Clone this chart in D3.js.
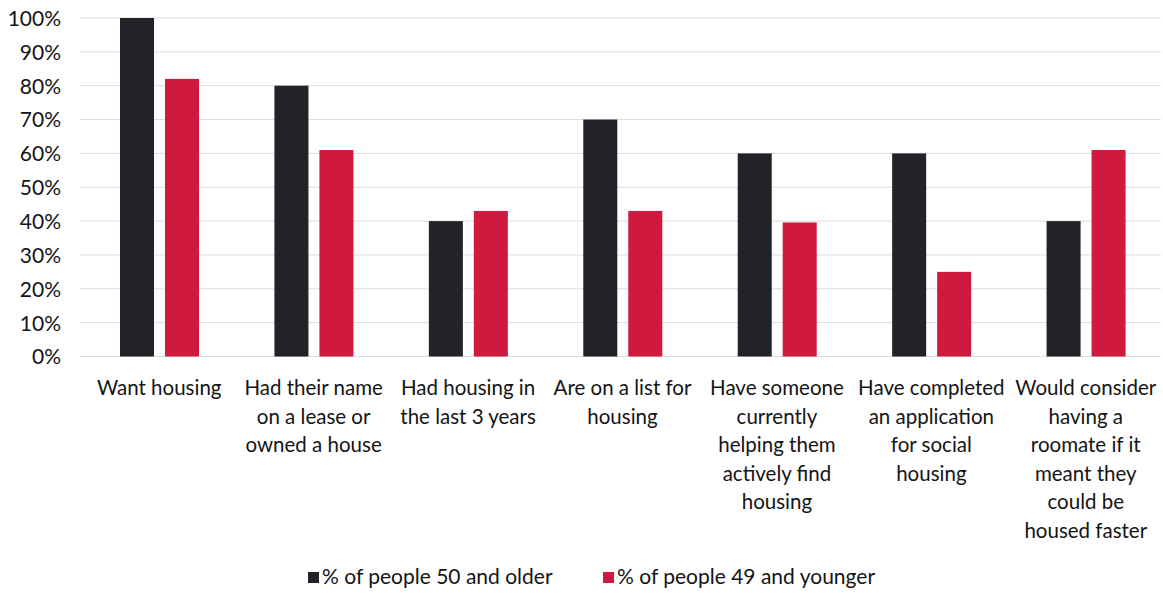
<!DOCTYPE html>
<html>
<head>
<meta charset="utf-8">
<script src="https://cdn.jsdelivr.net/npm/d3@7"></script>
<style>
  html, body { margin: 0; padding: 0; background: #fff; }
  svg { display: block; font-family: Lato, "Open Sans", sans-serif; }
</style>
</head>
<body>
<svg id="chart" width="1163" height="593"></svg>
<script>
// Category labels, one array of wrapped lines per category
const categories = [
  ["Want housing"],
  ["Had their name", "on a lease or", "owned a house"],
  ["Had housing in", "the last 3 years"],
  ["Are on a list for", "housing"],
  ["Have someone", "currently", "helping them", "actively find", "housing"],
  ["Have completed", "an application", "for social", "housing"],
  ["Would consider", "having a", "roomate if it", "meant they", "could be", "housed faster"]
];
const seriesNames = ["% of people 50 and older", "% of people 49 and younger"];
const older = [100, 80, 40, 70, 60, 60, 40];
const younger = [82, 61, 43, 43, 39.6, 25, 61];
const yTicks = [0, 10, 20, 30, 40, 50, 60, 70, 80, 90, 100];
const colors = ["#222229", "#d0193f"];
const textColor = "#141414";

const svg = d3.select("#chart");
const margin = { left: 80, right: 2, top: 18, bottom: 236 };
const W = 1163, H = 593;

const x = d3.scaleBand()
  .domain(d3.range(categories.length))
  .range([margin.left, W - margin.right])
  .padding(0);

const xs = d3.scaleBand()
  .domain([0, 1])
  .range([40, 119])
  .paddingInner(0.244)
  .paddingOuter(0);

const y = d3.scaleLinear().domain([0, 100]).range([H - margin.bottom - 0.5, margin.top]);

// gridlines
svg.append("g")
  .selectAll("line")
  .data(yTicks)
  .join("line")
  .attr("x1", margin.left)
  .attr("x2", W - margin.right)
  .attr("y1", d => y(d))
  .attr("y2", d => y(d))
  .attr("stroke", "#dcdcdc")
  .attr("stroke-width", 1);

// y axis labels
const yAxis = d3.axisLeft(y).tickValues(yTicks).tickFormat(d => d + "%").tickSize(0).tickPadding(0);
const gy = svg.append("g").attr("transform", `translate(61,0)`).call(yAxis);
gy.select(".domain").remove();
gy.selectAll("text")
  .attr("font-family", "Lato, sans-serif")
  .attr("font-size", 21)
  .attr("fill", textColor)
  .attr("dy", "0.35em");

// bars
const rows = categories.map((c, i) => ({ i, vals: [older[i], younger[i]] }));
const groups = svg.append("g").selectAll("g")
  .data(rows)
  .join("g")
  .attr("transform", d => `translate(${x(d.i)},0)`);

groups.selectAll("rect")
  .data(d => d.vals.map((v, s) => ({ v, s })))
  .join("rect")
  .attr("x", d => xs(d.s))
  .attr("width", xs.bandwidth())
  .attr("y", d => y(d.v))
  .attr("height", d => y(0) - y(d.v))
  .attr("fill", d => colors[d.s]);

// category labels
const labels = svg.append("g").selectAll("text")
  .data(categories)
  .join("text")
  .attr("x", (d, i) => x(i) + x.bandwidth() / 2 + 2)
  .attr("y", 395)
  .attr("text-anchor", "middle")
  .attr("font-size", 20.5)
  .attr("fill", textColor);
labels.selectAll("tspan")
  .data(d => d)
  .join("tspan")
  .attr("x", function () { return this.parentNode.getAttribute("x"); })
  .attr("dy", (d, j) => j === 0 ? 0 : 28.6)
  .text(d => d);

// legend
const legendX = [308, 603];
const legend = svg.append("g").selectAll("g")
  .data(seriesNames)
  .join("g")
  .attr("transform", (d, i) => `translate(${legendX[i]},572)`);
legend.append("rect")
  .attr("width", 11).attr("height", 11)
  .attr("fill", (d, i) => colors[i]);
legend.append("text")
  .attr("x", 14).attr("y", 11.5)
  .attr("font-size", 21)
  .attr("fill", textColor)
  .text(d => d);
</script>
</body>
</html>
